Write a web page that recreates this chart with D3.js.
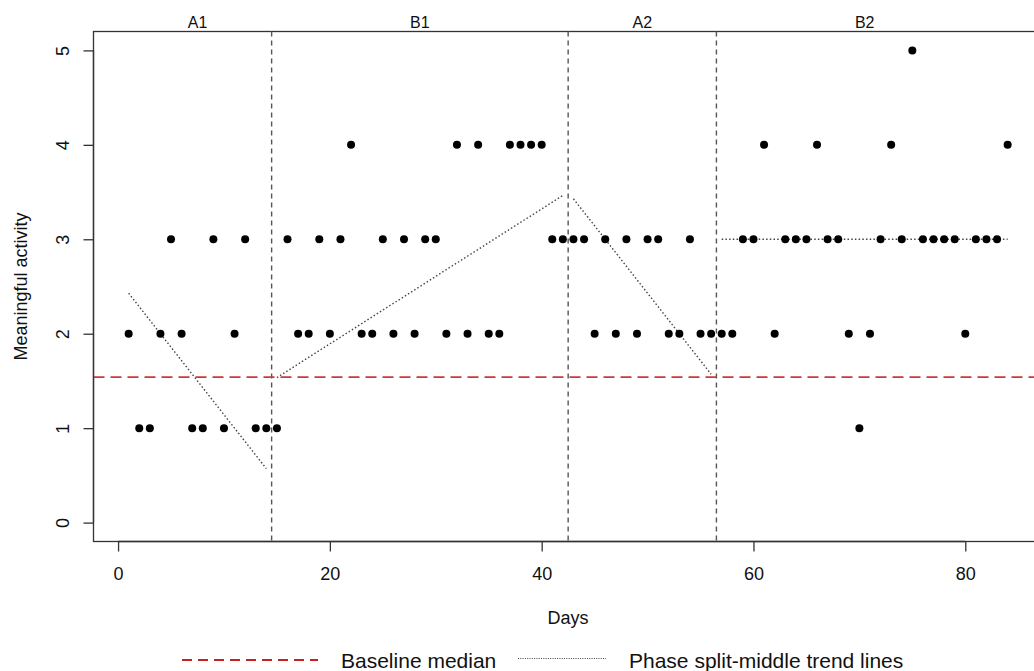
<!DOCTYPE html>
<html>
<head>
<meta charset="utf-8">
<script src="https://cdn.jsdelivr.net/npm/d3@7"></script>
<style>
  body { margin: 0; background: #fff; }
  svg { display: block; font-family: "Liberation Sans", Arial, sans-serif; }
</style>
</head>
<body>
<svg width="1034" height="671"></svg>
<script>
// phases of the single-case design
var phaseNames = ['A1', 'B1', 'A2', 'B2'];
var phaseStart = [1, 15, 43, 57];
var phaseEnd = [14, 42, 56, 84];

// meaningful activity score, one per day (day 1 .. 84)
var activity = [
	2, 1, 1, 2, 3, 2, 1, 1, 3, 1, 2, 3, 1, 1,
	1, 3, 2, 2, 3, 2, 3, 4, 2, 2, 3, 2, 3, 2, 3, 3, 2, 4, 2, 4, 2, 2, 4, 4, 4, 4, 3, 3,
	3, 3, 2, 3, 2, 3, 2, 3, 3, 2, 2, 3, 2, 2,
	2, 2, 3, 3, 4, 2, 3, 3, 3, 4, 3, 3, 2, 1, 2, 3, 4, 3, 5, 3, 3, 3, 3, 2, 3, 3, 3, 4
];

// level of the baseline median line
var baselineLevel = 1.54;

var xTicks = [0, 20, 40, 60, 80];
var yTicks = [0, 1, 2, 3, 4, 5];

var points = activity.map(function(v, i){ return { day: i + 1, value: v }; });

var svg = d3.select('svg');

var x = d3.scaleLinear().domain([-2.32, 87.32]).range([93.5, 1042.8]);
var y = d3.scaleLinear().domain([-0.2, 5.2]).range([541.5, 31.5]);

var ink = '#333';

// split-middle line for one phase
function splitMiddle(pts){
	var half = Math.floor(pts.length / 2);
	var a = pts.slice(0, half), b = pts.slice(pts.length - half);
	var x1 = d3.median(a, function(d){ return d.day; }), y1 = d3.median(a, function(d){ return d.value; });
	var x2 = d3.median(b, function(d){ return d.day; }), y2 = d3.median(b, function(d){ return d.value; });
	var slope = (y2 - y1) / (x2 - x1);
	var d0 = pts[0].day, d1 = pts[pts.length - 1].day;
	return [[d0, y1 + slope * (d0 - x1)], [d1, y1 + slope * (d1 - x1)]];
}

var phasePts = phaseNames.map(function(n, i){
	return points.filter(function(p){ return p.day >= phaseStart[i] && p.day <= phaseEnd[i]; });
});

// plot box
svg.append('rect')
	.attr('x', x.range()[0]).attr('y', y.range()[1])
	.attr('width', x.range()[1] - x.range()[0])
	.attr('height', y.range()[0] - y.range()[1])
	.attr('fill', 'none').attr('stroke', ink).attr('stroke-width', 1.3);

// phase separators
svg.append('g').selectAll('line')
	.data(phaseStart.slice(1))
	.enter().append('line')
		.attr('x1', function(d){ return x(d - 0.5); })
		.attr('x2', function(d){ return x(d - 0.5); })
		.attr('y1', y.range()[1]).attr('y2', y.range()[0])
		.attr('stroke', '#555').attr('stroke-width', 1.4)
		.attr('stroke-dasharray', '5,4');

// phase labels
svg.append('g').selectAll('text')
	.data(phaseNames)
	.enter().append('text')
		.attr('x', function(d, i){ return x((phaseStart[i] + phaseEnd[i]) / 2); })
		.attr('y', 28)
		.attr('text-anchor', 'middle')
		.attr('font-size', 16)
		.attr('fill', '#111')
		.text(function(d){ return d; });

// baseline median
svg.append('line')
	.attr('x1', x.range()[0]).attr('x2', x.range()[1])
	.attr('y1', y(baselineLevel)).attr('y2', y(baselineLevel))
	.attr('stroke', '#d03838').attr('stroke-width', 1.8)
	.attr('stroke-dasharray', '11,6');

// trend lines
var line = d3.line().x(function(d){ return x(d[0]); }).y(function(d){ return y(d[1]); });
svg.append('g').selectAll('path')
	.data(phasePts.map(splitMiddle))
	.enter().append('path')
		.attr('d', line)
		.attr('fill', 'none')
		.attr('stroke', '#444').attr('stroke-width', 1.4)
		.attr('stroke-dasharray', '1.5,2.2');

// points
svg.append('g').selectAll('circle')
	.data(points)
	.enter().append('circle')
		.attr('cx', function(d){ return x(d.day); })
		.attr('cy', function(d){ return y(d.value); })
		.attr('r', 4)
		.attr('fill', '#000');

// x axis
var gx = svg.append('g')
	.attr('transform', 'translate(0,' + y.range()[0] + ')')
	.call(d3.axisBottom(x).tickValues(xTicks).tickFormat(d3.format('d'))
		.tickSize(10).tickPadding(16).tickSizeOuter(0));
gx.select('.domain').remove();
gx.append('line')
	.attr('x1', x(xTicks[0])).attr('x2', x(xTicks[xTicks.length - 1]))
	.attr('stroke', ink).attr('stroke-width', 1.3);
gx.selectAll('.tick line').attr('stroke', ink).attr('stroke-width', 1.3);
gx.selectAll('text')
	.attr('font-size', 18)
	.attr('font-family', '"Liberation Sans", Arial, sans-serif')
	.attr('fill', '#111');

// y axis
var gy = svg.append('g')
	.attr('transform', 'translate(' + x.range()[0] + ',0)')
	.call(d3.axisLeft(y).tickValues(yTicks).tickFormat(d3.format('d'))
		.tickSize(10).tickSizeOuter(0));
gy.select('.domain').remove();
gy.append('line')
	.attr('y1', y(yTicks[0])).attr('y2', y(yTicks[yTicks.length - 1]))
	.attr('stroke', ink).attr('stroke-width', 1.3);
gy.selectAll('.tick line').attr('stroke', ink).attr('stroke-width', 1.3);
gy.selectAll('text')
	.attr('x', null).attr('dy', null)
	.attr('transform', 'translate(-24.5,0) rotate(-90)')
	.attr('text-anchor', 'middle')
	.attr('font-size', 18)
	.attr('font-family', '"Liberation Sans", Arial, sans-serif')
	.attr('fill', '#111');

// axis titles
svg.append('text')
	.attr('transform', 'translate(27,286.5) rotate(-90)')
	.attr('text-anchor', 'middle')
	.attr('font-size', 18).attr('fill', '#111')
	.text('Meaningful activity');

svg.append('text')
	.attr('x', 568).attr('y', 623.5)
	.attr('text-anchor', 'middle')
	.attr('font-size', 18).attr('fill', '#111')
	.text('Days');

// legend
var lg = svg.append('g');
lg.append('line')
	.attr('x1', 182).attr('x2', 318).attr('y1', 660).attr('y2', 660)
	.attr('stroke', '#c82020').attr('stroke-width', 1.8)
	.attr('stroke-dasharray', '10,6');
lg.append('text')
	.attr('x', 341).attr('y', 667.5)
	.attr('font-size', 21).attr('fill', '#111')
	.text('Baseline median');
lg.append('line')
	.attr('x1', 518).attr('x2', 606).attr('y1', 658.5).attr('y2', 658.5)
	.attr('stroke', '#444').attr('stroke-width', 1.2)
	.attr('stroke-dasharray', '1,1.3');
lg.append('text')
	.attr('x', 629).attr('y', 667.5)
	.attr('font-size', 21).attr('fill', '#111')
	.text('Phase split-middle trend lines');
</script>
</body>
</html>
